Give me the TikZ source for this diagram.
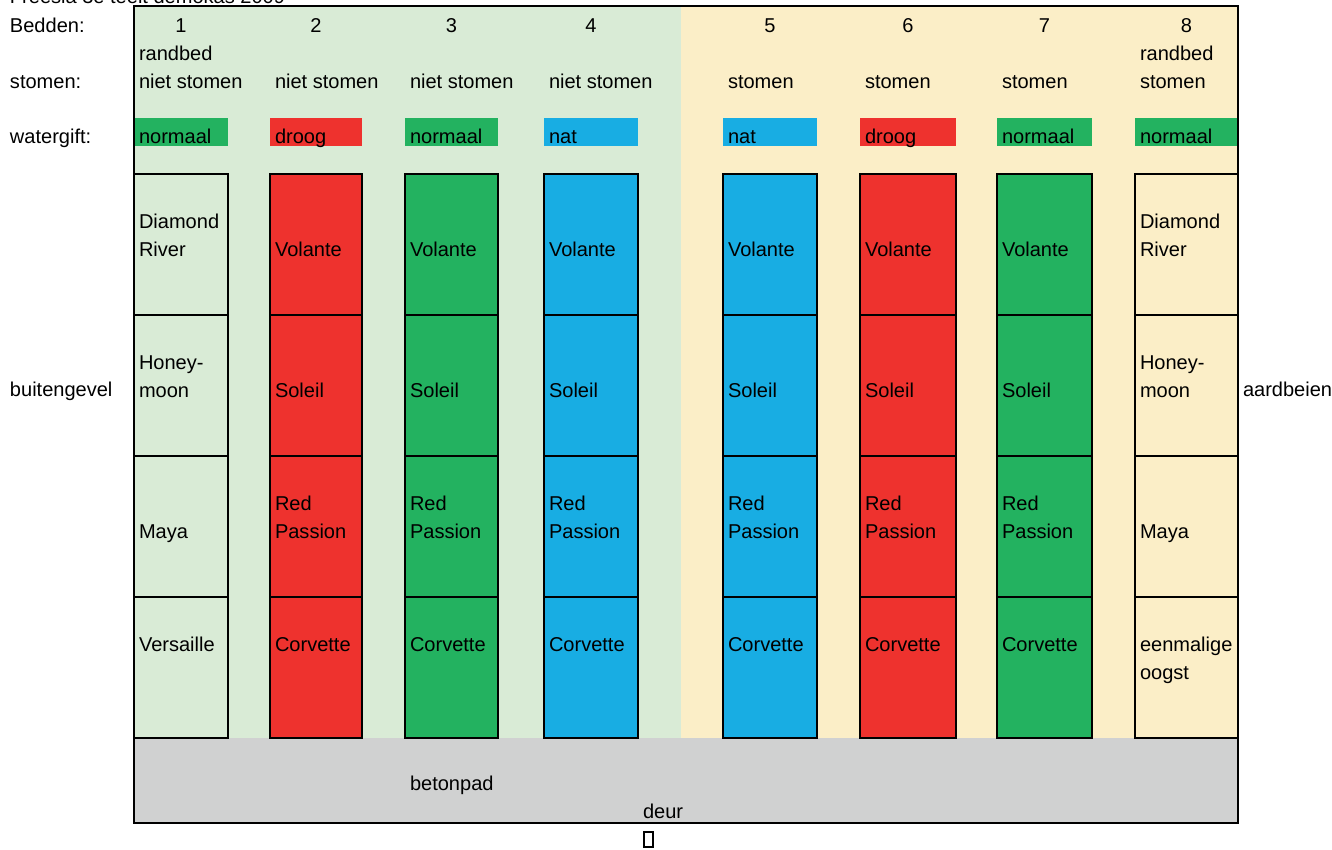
\documentclass[tikz,border=0pt]{standalone}
\usepackage{fontspec}
\setmainfont{Liberation Sans}
\usepackage{tikz}
\usetikzlibrary{positioning,calc}

\definecolor{lgroen}{RGB}{217,235,214}
\definecolor{lgeel}{RGB}{251,238,199}
\definecolor{grijs}{RGB}{208,209,209}
\definecolor{rood}{RGB}{238,50,46}
\definecolor{groen}{RGB}{35,178,96}
\definecolor{blauw}{RGB}{24,173,227}

\begin{document}
\begin{tikzpicture}[
    x=0.02cm, y=-0.02cm,
    every node/.style={font=\fontsize{11.4}{15.9}\selectfont, inner sep=0pt, outer sep=0pt},
    lbl/.style={anchor=base west, align=left},
    nr/.style={anchor=base},
    strip/.style={anchor=north west, minimum height=0.56cm},
    bedcell/.style={draw=black, line width=1.1pt, anchor=north west, minimum height=2.82cm},
]
    \useasboundingbox (0,0) rectangle (1332,849);

    \fill[lgroen] (134,6) rectangle (681,738);
    \fill[lgeel] (681,6) rectangle (1238,738);
    \fill[grijs] (134,738) rectangle (1238,823);

    \foreach \b/\xl/\xr/\vul/\wk/\wg/\st in {
        1/134/228/lgroen/groen/normaal/niet stomen,
        2/270/362/rood/rood/droog/niet stomen,
        3/405/498/groen/groen/normaal/niet stomen,
        4/544/638/blauw/blauw/nat/niet stomen,
        5/723/817/blauw/blauw/nat/stomen,
        6/860/956/rood/rood/droog/stomen,
        7/997/1092/groen/groen/normaal/stomen,
        8/1135/1238/lgeel/groen/normaal/stomen}
    {
        \pgfmathsetmacro{\bw}{(\xr-\xl)*0.02}
        \node[strip, fill=\wk, minimum width=\bw cm] (water\b) at (\xl,118) {};
        \node[lbl] (wg\b) at (\xl+5,143) {\wg};
        \node[nr] (nr\b) at ({(\xl+\xr)/2},32) {\b};
        \node[lbl] (st\b) at (\xl+5,88) {\st};
        \foreach \r/\yt in {1/174,2/315,3/456,4/597}
            \node[bedcell, fill=\vul, minimum width=\bw cm] (bed\b-\r) at (\xl,\yt) {};
    }

    \foreach \b in {2,...,7}
        \foreach \r/\soort/\dy in {1/Volante/82, 2/Soleil/82, 3/{Red\\Passion}/82, 4/Corvette/54}
            \node[lbl] (soort\b-\r) at ($(bed\b-\r.north west)+(5,\dy)$) {\soort};

    \node[lbl] (soort1-1) at ($(bed1-1.north west)+(5,82)$) {Diamond\\River};
    \node[lbl] (soort1-2) at ($(bed1-2.north west)+(5,82)$) {Honey-\\moon};
    \node[lbl] (soort1-3) at ($(bed1-3.north west)+(5,82)$) {Maya};
    \node[lbl] (soort1-4) at ($(bed1-4.north west)+(5,54)$) {Versaille};
    \node[lbl] (soort8-1) at ($(bed8-1.north west)+(5,82)$) {Diamond\\River};
    \node[lbl] (soort8-2) at ($(bed8-2.north west)+(5,82)$) {Honey-\\moon};
    \node[lbl] (soort8-3) at ($(bed8-3.north west)+(5,82)$) {Maya};
    \node[lbl] (soort8-4) at ($(bed8-4.north west)+(5,82)$) {eenmalige\\oogst};

    \draw[line width=1.1pt] (134,6) rectangle (1238,823);

    \node[lbl] (titel) at (10,3) {Freesia 3e teelt demokas 2009};
    \node[lbl] (bedden) at (10,32) {Bedden:};
    \node[lbl] (stomen) at (10,88) {stomen:};
    \node[lbl] (watergift) at (10,143) {watergift:};
    \node[lbl] (gevel) at (10,396) {buitengevel};
    \node[lbl] (aardbeien) at (1243,396) {aardbeien};
    \node[lbl] (rand1) at (139,60) {randbed};
    \node[lbl] (rand8) at (1140,60) {randbed};
    \node[lbl] (pad) at (410,790) {betonpad};
    \node[lbl] (deur) at (643,818) {deur};
    \node[draw, line width=0.8pt, anchor=north west, minimum width=0.18cm, minimum height=0.3cm] (deurvak) at (644,832) {};
\end{tikzpicture}
\end{document}
